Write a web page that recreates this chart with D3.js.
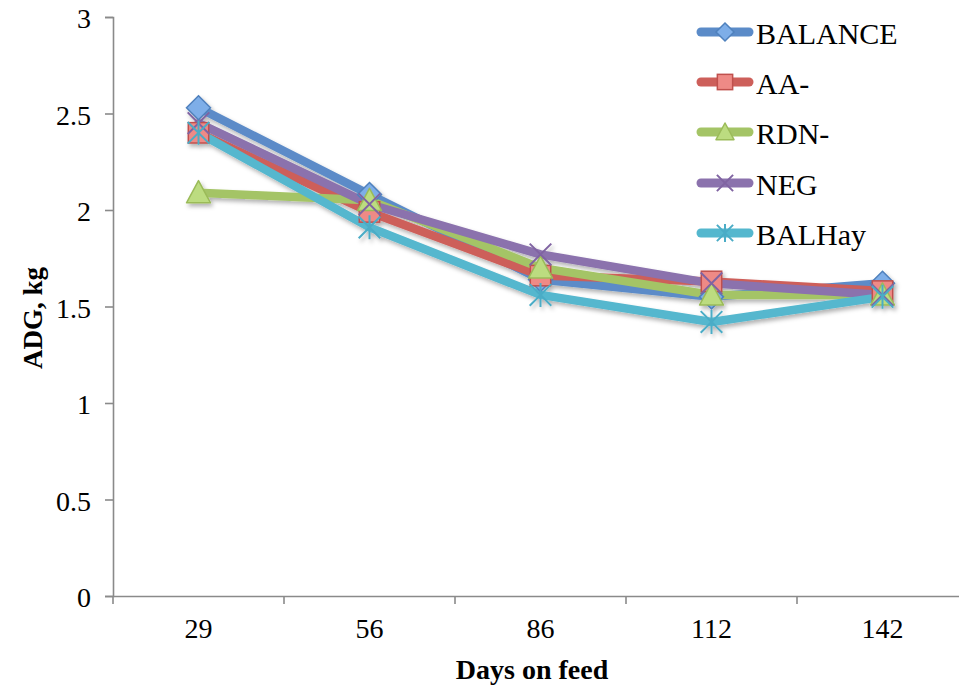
<!DOCTYPE html>
<html>
<head>
<meta charset="utf-8">
<script src="https://cdn.jsdelivr.net/npm/d3@7"></script>
<style>
  body { margin: 0; background: #fff; }
  svg { font-family: "Liberation Serif"; }
</style>
</head>
<body>
<svg width="959" height="689"></svg>
<script>
// Days on feed (categories)
const days = ["29", "56", "86", "112", "142"];
// series names, in drawing order
const seriesNames = ["BALANCE", "AA-", "RDN-", "NEG", "BALHay"];
// ADG values, kg
const balance = [2.53, 2.08, 1.64, 1.55, 1.62];
const aaMinus = [2.40, 1.99, 1.66, 1.63, 1.58];
const rdnMinus = [2.09, 2.05, 1.70, 1.56, 1.56];
const neg = [2.45, 2.03, 1.77, 1.62, 1.56];
const balHay = [2.40, 1.91, 1.56, 1.42, 1.55];
const yTicks = [0, 0.5, 1, 1.5, 2, 2.5, 3];

const allValues = [balance, aaMinus, rdnMinus, neg, balHay];

const serif = "Liberation Serif";

// colours: line, marker fill, marker edge
const styles = [
  { line: "#5b8bc8", fill: "#7eaee8", edge: "#4f81bd", shape: "diamond" },
  { line: "#cd5f5a", fill: "#ee8a86", edge: "#c0504d", shape: "square" },
  { line: "#a4c466", fill: "#bcdc80", edge: "#9bbb59", shape: "triangle" },
  { line: "#8b72ad", fill: "none", edge: "#8064a2", shape: "x" },
  { line: "#54b7ce", fill: "none", edge: "#4bacc6", shape: "star" }
];

const svg = d3.select("svg");
const plotLeft = 113, plotRight = 968, plotTop = 17, plotBottom = 596;

const x = d3.scaleBand().domain(days).range([plotLeft, plotRight]).padding(0);
const y = d3.scaleLinear().domain([0, 3]).range([plotBottom, plotTop]);

const defs = svg.append("defs");
defs.append("filter")
  .attr("id", "shadow")
  .attr("x", "-20%").attr("y", "-20%").attr("width", "140%").attr("height", "140%")
  .append("feDropShadow")
  .attr("dx", 2).attr("dy", 3).attr("stdDeviation", 2)
  .attr("flood-color", "#000").attr("flood-opacity", 0.3);

// axes
const yAxis = svg.append("g")
  .attr("transform", "translate(" + plotLeft + ",0)")
  .call(d3.axisLeft(y).tickValues(yTicks).tickFormat(d3.format("")).tickSize(8).tickPadding(14));
yAxis.selectAll("text").attr("dy", "0.38em");

const xAxis = svg.append("g")
  .attr("transform", "translate(0," + plotBottom + ")")
  .call(d3.axisBottom(x).tickSize(0).tickPadding(22));
// tick marks sit between categories
xAxis.selectAll(".bound")
  .data(days.map(d => x(d)).concat([x(days[days.length - 1]) + x.bandwidth()]))
  .enter().append("line")
  .attr("class", "bound")
  .attr("x1", d => d).attr("x2", d => d)
  .attr("y1", 0).attr("y2", 8);

svg.selectAll("g").attr("font-family", serif);
svg.selectAll(".domain, .tick line, .bound")
  .attr("stroke", "#8a8a8a").attr("stroke-width", 1.6);
svg.selectAll(".tick text")
  .attr("font-family", serif)
  .style("font-family", serif)
  .style("font-size", "28px")
  .attr("fill", "#000");

// axis titles
svg.append("text")
  .attr("x", (plotLeft + 959) / 2 - 4)
  .attr("y", 679)
  .attr("text-anchor", "middle")
  .attr("font-weight", "bold")
  .style("font-family", serif)
  .style("font-size", "28px")
  .text("Days on feed");

svg.append("text")
  .attr("transform", "translate(42,318) rotate(-90)")
  .attr("text-anchor", "middle")
  .attr("font-weight", "bold")
  .style("font-family", serif)
  .style("font-size", "27px")
  .text("ADG, kg");

function marker(g, shape, s, st) {
  const h = s / 2;
  if (shape === "diamond") {
    g.append("path").attr("d", `M0,${-h}L${h},0L0,${h}L${-h},0Z`)
      .attr("fill", st.fill).attr("stroke", st.edge).attr("stroke-width", 1.5);
  } else if (shape === "square") {
    const a = h * 0.85;
    g.append("rect").attr("x", -a).attr("y", -a).attr("width", 2 * a).attr("height", 2 * a)
      .attr("fill", st.fill).attr("stroke", st.edge).attr("stroke-width", 1.5);
  } else if (shape === "triangle") {
    g.append("path").attr("d", `M0,${-h}L${h},${h * 0.85}L${-h},${h * 0.85}Z`)
      .attr("fill", st.fill).attr("stroke", st.edge).attr("stroke-width", 1.5)
      .attr("stroke-linejoin", "round");
  } else if (shape === "x") {
    const a = h * 0.9;
    g.append("path").attr("d", `M${-a},${-a}L${a},${a}M${a},${-a}L${-a},${a}`)
      .attr("stroke", st.edge).attr("stroke-width", 2);
  } else {
    const a = h * 0.9;
    g.append("path").attr("d", `M${-a},${-a}L${a},${a}M${a},${-a}L${-a},${a}M0,${-h}L0,${h}`)
      .attr("stroke", st.edge).attr("stroke-width", 2);
  }
}

const cx = d => x(d) + x.bandwidth() / 2;
const line = d3.line().x(d => cx(d.day)).y(d => y(d.v));

const series = seriesNames.map((name, i) => ({
  name: name,
  st: styles[i],
  pts: days.map((d, j) => ({ day: d, v: allValues[i][j] }))
}));

// lines first, then markers
const plot = svg.append("g").attr("filter", "url(#shadow)");
plot.selectAll(".series")
  .data(series)
  .enter().append("path")
  .attr("d", d => line(d.pts))
  .attr("fill", "none")
  .attr("stroke", d => d.st.line)
  .attr("stroke-width", 8.5)
  .attr("stroke-linejoin", "round")
  .attr("stroke-linecap", "round");

series.forEach(s => {
  s.pts.forEach(p => {
    const g = plot.append("g").attr("transform", "translate(" + cx(p.day) + "," + y(p.v) + ")");
    marker(g, s.st.shape, 24, s.st);
  });
});

// legend
const legendY = [32, 82, 132, 183, 233];
const legend = svg.append("g");
series.forEach((s, i) => {
  const g = legend.append("g").attr("transform", "translate(0," + legendY[i] + ")");
  g.append("line")
    .attr("x1", 701).attr("x2", 749).attr("y1", 0).attr("y2", 0)
    .attr("stroke", s.st.line).attr("stroke-width", 9).attr("stroke-linecap", "round");
  const m = g.append("g").attr("transform", "translate(725,0)");
  marker(m, s.st.shape, 18, s.st);
  g.append("text")
    .attr("x", 756).attr("y", 12)
    .style("font-family", serif)
    .style("font-size", "30px")
    .text(s.name);
});
</script>
</body>
</html>
